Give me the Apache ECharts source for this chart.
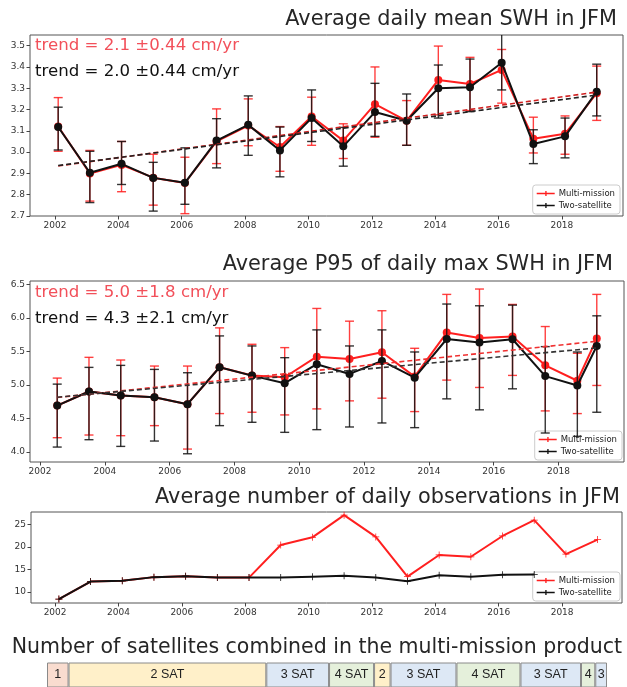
<!DOCTYPE html>
<html>
<head>
<meta charset="utf-8">
<script src="https://cdn.jsdelivr.net/npm/echarts@6/dist/echarts.min.js"></script>
<style>
  html, body { margin: 0; padding: 0; background: #fff; }
  #chart { width: 627px; height: 687px; }
</style>
</head>
<body>
<div id="chart"></div>
<script>
// ---------------- DATA ----------------
const seriesNames = ['Multi-mission', 'Two-satellite'];

// Panel 1: Average daily mean SWH in JFM (m)
const swhTitle = 'Average daily mean SWH in JFM';
const swhX = [2002.1, 2003.1, 2004.1, 2005.1, 2006.1, 2007.1, 2008.1, 2009.1, 2010.1, 2011.1, 2012.1, 2013.1, 2014.1, 2015.1, 2016.1, 2017.1, 2018.1, 2019.1];
const swhMulti = [3.12, 2.90, 2.94, 2.88, 2.855, 3.05, 3.125, 3.024, 3.167, 3.054, 3.225, 3.147, 3.339, 3.32, 3.386, 3.063, 3.086, 3.277];
const swhMultiHigh = [3.256, 3.008, 3.05, 2.99, 2.976, 3.203, 3.25, 3.12, 3.258, 3.133, 3.40, 3.242, 3.498, 3.445, 3.482, 3.164, 3.17, 3.404];
const swhMultiLow = [3.004, 2.77, 2.814, 2.751, 2.711, 2.946, 3.03, 2.91, 3.032, 2.97, 3.07, 3.032, 3.175, 3.195, 3.23, 2.996, 2.99, 3.149];
const swhTwo = [3.118, 2.903, 2.945, 2.879, 2.856, 3.054, 3.128, 3.008, 3.16, 3.027, 3.188, 3.147, 3.30, 3.305, 3.42, 3.038, 3.074, 3.284];
const swhTwoHigh = [3.211, 3.004, 3.05, 2.952, 3.02, 3.157, 3.264, 3.118, 3.292, 3.116, 3.323, 3.273, 3.409, 3.437, 3.56, 3.105, 3.16, 3.413];
const swhTwoLow = [3.01, 2.763, 2.848, 2.723, 2.755, 2.926, 2.985, 2.884, 3.05, 2.934, 3.074, 3.032, 3.16, 3.19, 3.292, 2.946, 2.973, 3.17];
const swhTrendX = [2002.1, 2019.1];
const swhTrendMulti = [2.935, 3.282];
const swhTrendTwo = [2.937, 3.268];
const swhTrendText = ['trend = 2.1 \u00b10.44 cm/yr', 'trend = 2.0 \u00b10.44 cm/yr'];
const swhYTicks = [2.7, 2.8, 2.9, 3.0, 3.1, 3.2, 3.3, 3.4, 3.5];
const swhXTicks = [2002, 2004, 2006, 2008, 2010, 2012, 2014, 2016, 2018];

// Panel 2: Average P95 of daily max SWH in JFM (m)
const p95Title = 'Average P95 of daily max SWH in JFM';
const p95X = [2002.53, 2003.51, 2004.49, 2005.53, 2006.55, 2007.54, 2008.54, 2009.55, 2010.54, 2011.55, 2012.55, 2013.56, 2014.55, 2015.56, 2016.58, 2017.59, 2018.58, 2019.18];
const p95Multi = [4.69, 4.90, 4.84, 4.815, 4.71, 5.262, 5.14, 5.113, 5.42, 5.386, 5.486, 5.122, 5.78, 5.70, 5.72, 5.29, 5.06, 5.69];
const p95MultiHigh = [5.10, 5.41, 5.37, 5.28, 5.28, 5.85, 5.605, 5.555, 6.14, 5.95, 6.106, 5.545, 6.35, 6.43, 6.20, 5.87, 5.47, 6.35];
const p95MultiLow = [4.21, 4.25, 4.24, 4.39, 4.04, 4.57, 4.59, 4.55, 4.64, 4.76, 4.80, 4.60, 5.07, 4.96, 5.14, 4.61, 4.57, 4.99];
const p95Two = [4.69, 4.90, 4.84, 4.815, 4.71, 5.262, 5.137, 5.024, 5.307, 5.162, 5.356, 5.107, 5.684, 5.63, 5.68, 5.13, 4.99, 5.58];
const p95TwoHigh = [5.01, 5.26, 5.29, 5.23, 5.18, 5.73, 5.58, 5.405, 5.82, 5.58, 5.82, 5.49, 6.206, 6.18, 6.19, 5.57, 5.49, 6.03];
const p95TwoLow = [4.07, 4.18, 4.08, 4.16, 3.97, 4.39, 4.44, 4.29, 4.33, 4.37, 4.43, 4.36, 4.79, 4.626, 4.94, 4.28, 4.23, 4.59];
const p95TrendX = [2002.53, 2019.18];
const p95TrendMulti = [4.81, 5.65];
const p95TrendTwo = [4.815, 5.55];
const p95TrendText = ['trend = 5.0 \u00b11.8 cm/yr', 'trend = 4.3 \u00b12.1 cm/yr'];
const p95YTicks = [4.0, 4.5, 5.0, 5.5, 6.0, 6.5];
const p95XTicks = [2002, 2004, 2006, 2008, 2010, 2012, 2014, 2016, 2018];

// Panel 3: Average number of daily observations in JFM
const obsTitle = 'Average number of daily observations in JFM';
const obsX = [2002.12, 2003.12, 2004.12, 2005.12, 2006.12, 2007.12, 2008.12, 2009.12, 2010.12, 2011.12, 2012.12, 2013.12, 2014.12, 2015.12, 2016.12, 2017.12, 2018.12, 2019.12];
const obsMulti = [8.46, 12.33, 12.5, 13.3, 13.5, 13.2, 13.2, 20.4, 22.1, 27.0, 22.2, 13.4, 18.2, 17.8, 22.4, 25.9, 18.4, 21.6];
const obsTwo = [8.46, 12.33, 12.5, 13.3, 13.5, 13.2, 13.2, 13.2, 13.4, 13.6, 13.2, 12.4, 13.7, 13.4, 13.8, 13.9, null, null];
const obsYTicks = [10, 15, 20, 25];
const obsXTicks = [2002, 2004, 2006, 2008, 2010, 2012, 2014, 2016, 2018];

// Panel 4: Number of satellites combined (segment lengths in years)
const satTitle = 'Number of satellites combined in the multi-mission product';
const satLabels = ['1', '2 SAT', '3 SAT', '4 SAT', '2', '3 SAT', '4 SAT', '3 SAT', '4', '3'];
const satCounts = [1, 2, 3, 4, 2, 3, 4, 3, 4, 3];
const satLengths = [0.68, 6.24, 1.98, 1.42, 0.52, 2.08, 2.02, 1.91, 0.45, 0.37];

// ---------------- STYLE ----------------
const RED = '#ff1f1f';
const BLACK = '#111111';
const RED_TEXT = '#f2505a';
const satColors = { 1: '#f9dccf', 2: '#fff0c9', 3: '#dde8f5', 4: '#e5f0db' };

const zip2 = (xs, ys) => xs.map((x, i) => [x, ys[i]]);
const zip3 = (xs, lo, hi) => xs.map((x, i) => [x, lo[i], hi[i]]);

function errRender(color) {
  return function (params, api) {
    const x = api.value(0), lo = api.value(1), hi = api.value(2);
    const top = api.coord([x, hi]);
    const bot = api.coord([x, lo]);
    const cw = 4.5;
    const st = { stroke: color, lineWidth: 1.4, opacity: 0.85 };
    return {
      type: 'group',
      children: [
        { type: 'line', shape: { x1: top[0], y1: top[1], x2: bot[0], y2: bot[1] }, style: st },
        { type: 'line', shape: { x1: top[0] - cw, y1: top[1], x2: top[0] + cw, y2: top[1] }, style: st },
        { type: 'line', shape: { x1: bot[0] - cw, y1: bot[1], x2: bot[0] + cw, y2: bot[1] }, style: st }
      ]
    };
  };
}

const axisFont = { fontSize: 9, color: '#333', fontFamily: 'DejaVu Sans' };

function xAxisFor(idx, min, max, ticks) {
  return {
    type: 'value', gridIndex: idx, min: min, max: max,
    axisLine: { show: false, onZero: false },
    splitLine: { show: false },
    axisTick: { show: true, length: 3.5, lineStyle: { color: '#444' }, customValues: ticks },
    axisLabel: Object.assign({ margin: 5, customValues: ticks, formatter: v => String(Math.round(v)) }, axisFont)
  };
}
function yAxisFor(idx, min, max, ticks, digits) {
  return {
    type: 'value', gridIndex: idx, min: min, max: max,
    axisLine: { show: false, onZero: false },
    splitLine: { show: false },
    axisTick: { show: true, length: 3.5, lineStyle: { color: '#444' }, customValues: ticks },
    axisLabel: Object.assign({ margin: 5, customValues: ticks, formatter: v => v.toFixed(digits) }, axisFont)
  };
}

const plusPath = 'path://M0,4h9v1h-9zM4,0h1v9h-1z';
const legendIcon = 'path://M0,6h40v3h-40zM19,2h3v11h-3z';

function mainSeries(gi, name, data, color, symbol, symbolSize, z) {
  return {
    type: 'line', name: name, xAxisIndex: gi, yAxisIndex: gi, data: data,
    symbol: symbol, symbolSize: symbolSize, showSymbol: true,
    lineStyle: { color: color, width: 2 }, itemStyle: { color: color, borderWidth: 0 },
    z: z, silent: true, animation: false
  };
}
function errSeries(gi, name, data, color, z) {
  return {
    type: 'custom', name: name, xAxisIndex: gi, yAxisIndex: gi, data: data,
    renderItem: errRender(color), clip: true, z: z, silent: true, animation: false
  };
}
function trendSeries(gi, name, data, color, z) {
  return {
    type: 'line', name: name, xAxisIndex: gi, yAxisIndex: gi, data: data,
    symbol: 'none', lineStyle: { color: color, width: 1.6, type: [5, 3] }, z: z,
    silent: true, animation: false
  };
}

function legendAt(right, top) {
  return {
    right: right, top: top, orient: 'vertical',
    itemWidth: 18, itemHeight: 9, itemGap: 3,
    padding: [4, 5, 4, 4],
    backgroundColor: 'rgba(255,255,255,0.9)', borderColor: '#cccccc', borderWidth: 1, borderRadius: 3,
    textStyle: { fontSize: 8.5, color: '#222', fontFamily: 'DejaVu Sans', padding: [0, 0, 0, -1] },
    selectedMode: false,
    data: [
      { name: seriesNames[0], icon: legendIcon, itemStyle: { color: RED, opacity: 1 } },
      { name: seriesNames[1], icon: legendIcon, itemStyle: { color: BLACK, opacity: 1 } }
    ]
  };
}

const titleStyle = { fill: '#262626', fontSize: 20.8, fontFamily: 'DejaVu Sans', fontWeight: 'normal' };
function titleText(text, x, y, size) {
  return { type: 'text', x: x, y: y, style: Object.assign({ text: text, align: 'right', verticalAlign: 'middle' }, titleStyle, size ? { fontSize: size } : {}), z: 10 };
}
function trendText(text, x, y, color) {
  return { type: 'text', x: x, y: y, style: { text: text, fill: color, fontSize: 16.6, fontFamily: 'DejaVu Sans', align: 'left', verticalAlign: 'middle' }, z: 10 };
}

const satTotal = satLengths.reduce((a, b) => a + b, 0);
const satSeries = satLabels.map((lab, i) => ({
  type: 'bar', name: 'sat' + i, xAxisIndex: 3, yAxisIndex: 3, stack: 'sat',
  data: [satLengths[i]], barWidth: 28,
  itemStyle: { color: satColors[satCounts[i]], borderColor: '#8a8a8a', borderWidth: 1 },
  label: { show: true, position: 'inside', formatter: lab, color: '#222', fontSize: 12.5, fontFamily: 'Liberation Sans' },
  silent: true, animation: false
}));

const option = {
  animation: false,
  backgroundColor: '#ffffff',
  grid: [
    { left: 30, top: 35, width: 593, height: 181, show: true, borderColor: '#555', borderWidth: 1, backgroundColor: 'transparent' },
    { left: 30, top: 281, width: 594, height: 181, show: true, borderColor: '#555', borderWidth: 1, backgroundColor: 'transparent' },
    { left: 31, top: 512, width: 591, height: 91, show: true, borderColor: '#555', borderWidth: 1, backgroundColor: 'transparent' },
    { left: 47, top: 663, width: 560, height: 28, show: false }
  ],
  xAxis: [
    xAxisFor(0, 2001.21, 2019.93, swhXTicks),
    xAxisFor(1, 2001.69, 2020.02, p95XTicks),
    xAxisFor(2, 2001.24, 2019.89, obsXTicks),
    { type: 'value', gridIndex: 3, min: 0, max: satTotal, show: false }
  ],
  yAxis: [
    yAxisFor(0, 2.7, 3.55, swhYTicks, 1),
    yAxisFor(1, 3.847, 6.55, p95YTicks, 1),
    yAxisFor(2, 7.58, 27.7, obsYTicks, 0),
    { type: 'category', gridIndex: 3, data: ['sat'], show: false }
  ],
  legend: [legendAt(7, 185), legendAt(5, 431), legendAt(7, 572)],
  graphic: [
    titleText(swhTitle, 617, 20),
    trendText(swhTrendText[0], 35, 46, RED_TEXT),
    trendText(swhTrendText[1], 35, 72, BLACK),
    titleText(p95Title, 613, 265),
    trendText(p95TrendText[0], 35, 293, RED_TEXT),
    trendText(p95TrendText[1], 35, 319, BLACK),
    titleText(obsTitle, 620, 498),
    titleText(satTitle, 622, 648, 20.5)
  ],
  series: [
    // panel 1
    errSeries(0, 'mm-err-1', zip3(swhX, swhMultiLow, swhMultiHigh), RED, 2),
    mainSeries(0, seriesNames[0], zip2(swhX, swhMulti), RED, 'circle', 8, 3),
    errSeries(0, 'ts-err-1', zip3(swhX, swhTwoLow, swhTwoHigh), BLACK, 4),
    mainSeries(0, seriesNames[1], zip2(swhX, swhTwo), BLACK, 'circle', 8, 5),
    trendSeries(0, 'mm-trend-1', zip2(swhTrendX, swhTrendMulti), '#d02020', 6),
    trendSeries(0, 'ts-trend-1', zip2(swhTrendX, swhTrendTwo), '#222', 6),
    // panel 2
    errSeries(1, 'mm-err-2', zip3(p95X, p95MultiLow, p95MultiHigh), RED, 2),
    mainSeries(1, seriesNames[0], zip2(p95X, p95Multi), RED, 'circle', 8, 3),
    errSeries(1, 'ts-err-2', zip3(p95X, p95TwoLow, p95TwoHigh), BLACK, 4),
    mainSeries(1, seriesNames[1], zip2(p95X, p95Two), BLACK, 'circle', 8, 5),
    trendSeries(1, 'mm-trend-2', zip2(p95TrendX, p95TrendMulti), '#f03030', 6),
    trendSeries(1, 'ts-trend-2', zip2(p95TrendX, p95TrendTwo), '#333', 6),
    // panel 3
    mainSeries(2, seriesNames[0], zip2(obsX, obsMulti), RED, plusPath, 7, 3),
    mainSeries(2, seriesNames[1], zip2(obsX, obsTwo), BLACK, plusPath, 7, 5),
    // panel 4
    ...satSeries
  ]
};

const chart = echarts.init(document.getElementById('chart'), null, { renderer: 'canvas' });
chart.setOption(option);
</script>
</body>
</html>
